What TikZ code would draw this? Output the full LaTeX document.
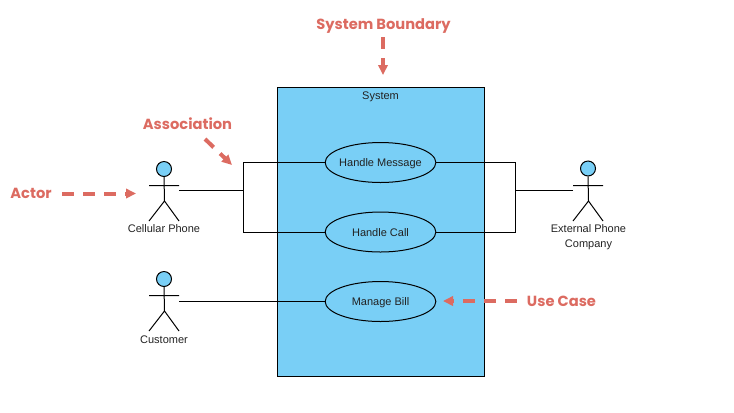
\documentclass[tikz,border=0pt]{standalone}
\usepackage{fontspec}
\setmainfont{Liberation Sans}
\newfontfamily\redfont{Poppins}
\usetikzlibrary{arrows.meta,shapes.geometric}
\definecolor{fillblue}{HTML}{79CFF6}
\definecolor{redlab}{HTML}{DC6B61}
\definecolor{txt}{HTML}{222222}
\tikzset{
  every node/.style={font=\fontsize{8.25pt}{11.25pt}\selectfont,text=txt,inner sep=0pt,align=center},
  usecase/.style={ellipse,draw=black,fill=fillblue,line width=0.75pt,minimum width=83pt,minimum height=30pt,inner xsep=-8pt,text height=6pt,text depth=0pt},
  head/.style={circle,draw=black,fill=fillblue,line width=0.75pt,minimum size=11.25pt},
  stick/.style={draw=black,line width=0.75pt},
  assoc/.style={draw=black,line width=0.75pt},
  lab/.style={anchor=base},
  redtext/.style={anchor=base,font=\redfont\fontsize{11pt}{14pt}\bfseries\selectfont,text=redlab},
  callout/.style={draw=redlab,line width=3pt,dash pattern=on 9pt off 6.75pt,-{Triangle[length=7.5pt,width=7pt]}}
}
\begin{document}
\begin{tikzpicture}[x=0.75pt,y=-0.75pt]
\useasboundingbox (0,0) rectangle (734,412);
% system
\node[draw=black,fill=fillblue,line width=0.75pt,minimum width=155.25pt,minimum height=216.75pt,anchor=north west] (sys) at (276.9,86.9) {};
\node[lab] (systitle) at (380.5,99) {System};
% use cases
\node[usecase] (msg) at (380.5,162.5) {Handle Message};
\node[usecase] (call) at (380.5,232) {Handle Call};
\node[usecase] (bill) at (380.5,301.5) {Manage Bill};
% actor cellular
\node[head] (h1) at (164,169) {};
\coordinate (b1) at (164.5,201);
\coordinate (hand1) at (179,190.5);
\draw[stick] (h1.south) -- (b1) (149,185.5) -- (179,185.5) (149,221) -- (b1) -- (179,221);
\node[lab] (l1) at (164,232) {Cellular Phone};
% actor customer
\node[head] (h2) at (164,279) {};
\coordinate (b2) at (164.5,311);
\coordinate (hand2) at (179,301.5);
\draw[stick] (h2.south) -- (b2) (149,295.5) -- (179,295.5) (149,331) -- (b2) -- (179,331);
\node[lab] (l2) at (164,343) {Customer};
% actor external
\node[head] (h3) at (588,168.5) {};
\coordinate (b3) at (588.5,201);
\coordinate (hand3) at (573,190.5);
\draw[stick] (h3.south) -- (b3) (573,185.5) -- (603,185.5) (573,221) -- (b3) -- (603,221);
\node[lab] (l3a) at (588.5,232) {External Phone};
\node[lab] (l3b) at (588.5,247) {Company};
% associations
\coordinate (jl) at (243.5,190.5);
\coordinate (jr) at (515.5,190.5);
\draw[assoc] (hand1) -- (jl);
\draw[assoc] (jl) |- (msg.west);
\draw[assoc] (jl) |- (call.west);
\draw[assoc] (hand2) -- (bill.west |- hand2);
\draw[assoc] (hand3) -- (jr);
\draw[assoc] (jr) |- (msg.east);
\draw[assoc] (jr) |- (call.east);
% callouts
\node[redtext] (tb) at (383.5,29) {System Boundary};
\node[redtext] (ta) at (187.5,129) {Association};
\node[redtext] (tc) at (31,198) {Actor};
\node[redtext] (tu) at (561.5,306) {Use Case};
\coordinate (eb) at (383,75);
\coordinate (ea) at (232,165);
\coordinate (ec) at (136,193.5);
\coordinate (eu) at (443,301);
\draw[callout] (383,37) -- (eb);
\draw[callout] (205,139) -- (ea);
\draw[callout] (62,193.5) -- (ec);
\draw[callout] (516.5,301) -- (eu);
\end{tikzpicture}
\end{document}
